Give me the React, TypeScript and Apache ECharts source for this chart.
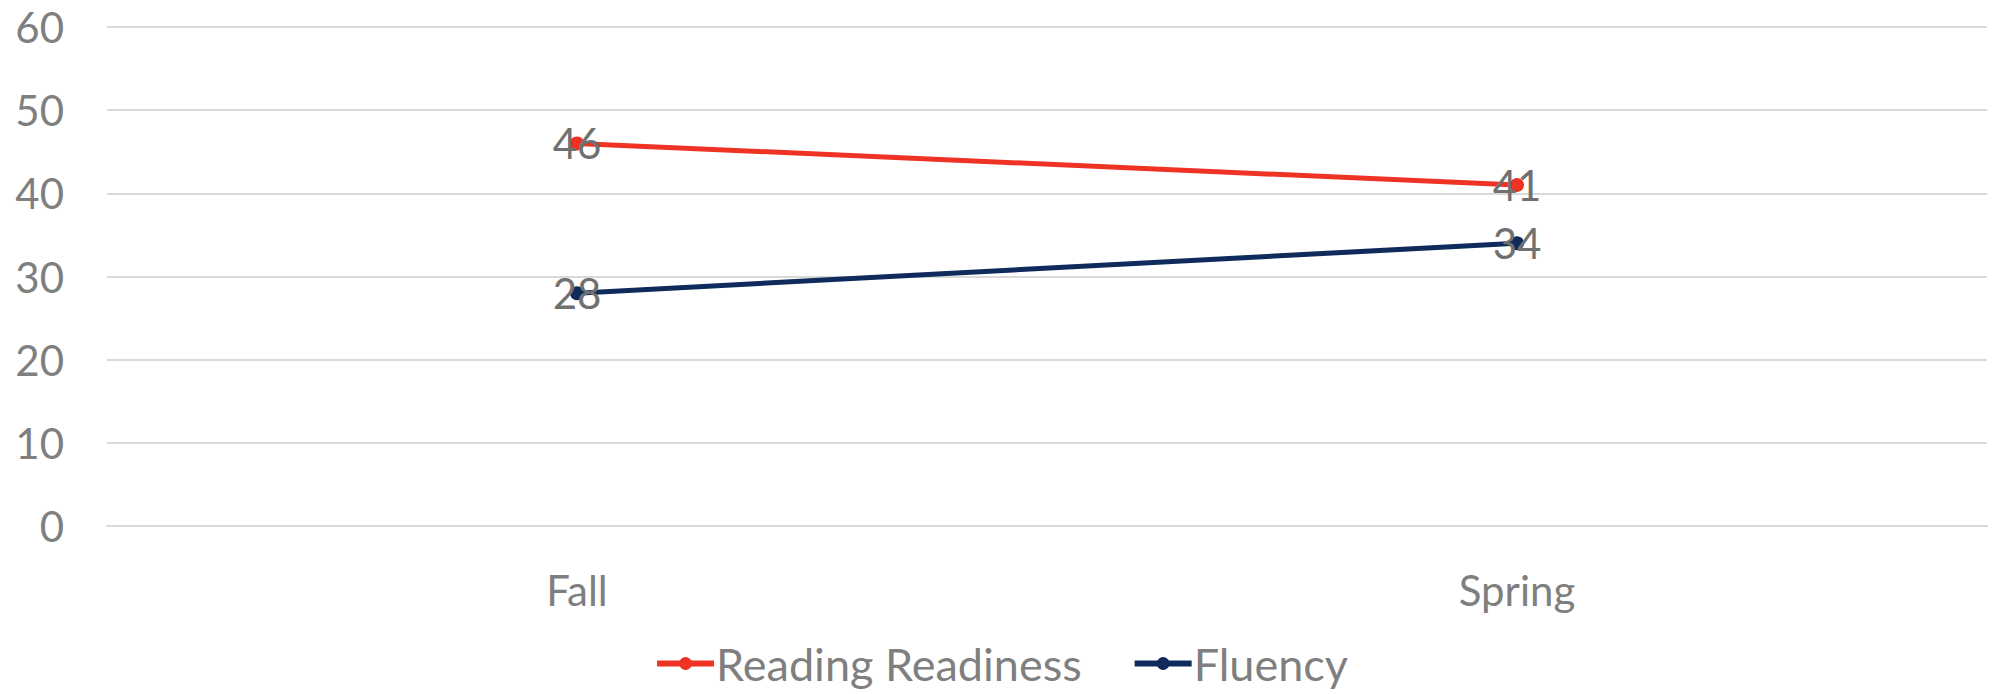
import React, { useEffect, useRef } from "react";
import * as echarts from "echarts";

const categories = ["Fall", "Spring"];
const readingReadiness = [46, 41];
const fluency = [28, 34];
const yTicks = { min: 0, max: 60, interval: 10 };

const FONT = "Lato, 'Open Sans', sans-serif";
const GRAY = "#7f7f7f";

export default function App() {
  const ref = useRef<HTMLDivElement>(null);
  useEffect(() => {
    document.body.style.margin = "0";
    const chart = echarts.init(ref.current!, null, { renderer: "svg" });
    chart.setOption({
      animation: false,
      backgroundColor: "#ffffff",
      textStyle: { fontFamily: FONT },
      grid: { left: 107, right: 15, top: 27, bottom: 168, containLabel: false },
      legend: {
        top: 636,
        left: "center",
        itemWidth: 57,
        itemHeight: 16,
        itemGap: 50,
        lineStyle: { width: 6 },
        textStyle: { fontFamily: FONT, fontSize: 45, color: GRAY, padding: [0, 0, 0, -3] },
        data: ["Reading Readiness", "Fluency"],
      },
      xAxis: {
        type: "category",
        data: categories,
        boundaryGap: true,
        axisLine: { show: true, lineStyle: { color: "#d9d9d9", width: 2 } },
        axisTick: { show: false },
        axisLabel: { fontFamily: FONT, fontSize: 42, color: GRAY, margin: 43 },
      },
      yAxis: {
        type: "value",
        min: yTicks.min,
        max: yTicks.max,
        interval: yTicks.interval,
        axisLine: { show: false },
        axisTick: { show: false },
        splitLine: { lineStyle: { color: "#d9d9d9", width: 2 } },
        axisLabel: { fontFamily: FONT, fontSize: 42, color: GRAY, margin: 43 },
      },
      series: [
        {
          name: "Reading Readiness",
          type: "line",
          data: readingReadiness,
          symbol: "circle",
          symbolSize: 14,
          color: "#ee3325",
          lineStyle: { width: 5, color: "#ee3325" },
          itemStyle: { color: "#ee3325" },
          label: {
            show: true,
            position: "inside",
            fontFamily: FONT,
            fontSize: 42,
            color: "#707070",
          },
        },
        {
          name: "Fluency",
          type: "line",
          data: fluency,
          symbol: "circle",
          symbolSize: 14,
          color: "#0f2b5b",
          lineStyle: { width: 5, color: "#0f2b5b" },
          itemStyle: { color: "#0f2b5b" },
          label: {
            show: true,
            position: "inside",
            fontFamily: FONT,
            fontSize: 42,
            color: "#707070",
          },
        },
      ],
    });
    return () => chart.dispose();
  }, []);
  return <div ref={ref} style={{ width: 2002, height: 694 }} />;
}
